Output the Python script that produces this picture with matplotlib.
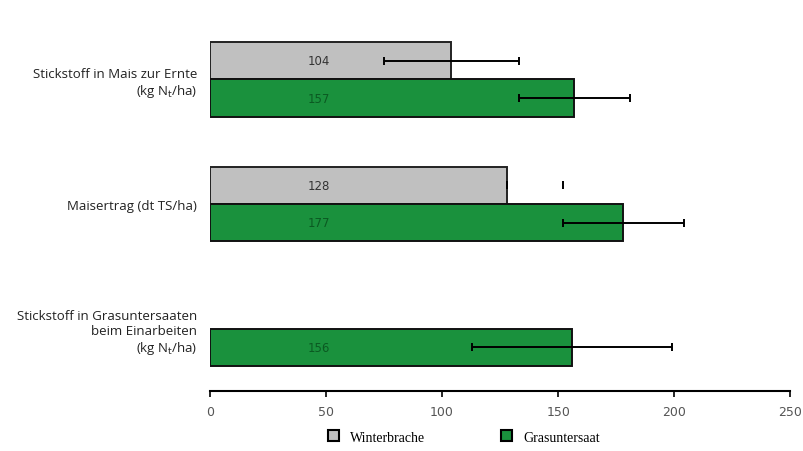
import matplotlib.pyplot as plt
import numpy as np
from matplotlib.patches import Patch

# categories, top to bottom
categories = [
    "Stickstoff in Mais zur Ernte\n(kg N$_{\\mathrm{t}}$/ha)",
    "Maisertrag (dt TS/ha)",
    "Stickstoff in Grasuntersaaten\nbeim Einarbeiten\n(kg N$_{\\mathrm{t}}$/ha)",
]
series_names = ["Winterbrache", "Grasuntersaat"]

# Winterbrache (no value for the third category)
brache = [104, 128, np.nan]
brache_err_lo = [29, 0, 0]
brache_err_hi = [29, 24, 0]
brache_labels = ["104", "128", ""]

# Grasuntersaat
gras = [157, 178, 156]
gras_err = [24, 26, 43]
gras_labels = ["157", "177", "156"]

xticks = [0, 50, 100, 150, 200, 250]

gray = "#c0c0c0"
green = "#1a913d"

fig = plt.figure(figsize=(8.04, 4.52), dpi=100)
ax = fig.add_axes([0.261, 0.133, 0.722, 0.827])

y = np.arange(len(categories))
h = 0.30

ax.barh(y - h / 2, brache, height=h, color=gray, edgecolor="#222222", linewidth=1.4)
ax.barh(y + h / 2, gras, height=h, color=green, edgecolor="#111111", linewidth=1.4)

# first Winterbrache error bar is drawn in full, the second shows only its cap
ax.errorbar(brache[0], y[0] - h / 2, xerr=[[brache_err_lo[0]], [brache_err_hi[0]]],
            fmt="none", ecolor="black", elinewidth=1.4, capsize=3, capthick=1.4)
ax.errorbar(brache[1], y[1] - h / 2, xerr=[[brache_err_lo[1]], [brache_err_hi[1]]],
            fmt="none", ecolor="black", elinewidth=0, capsize=3, capthick=1.4)
ax.errorbar(gras, y + h / 2, xerr=gras_err,
            fmt="none", ecolor="black", elinewidth=1.4, capsize=3, capthick=1.4)

for i in range(len(categories)):
    if brache_labels[i]:
        ax.text(47, y[i] - h / 2, brache_labels[i], ha="center", va="center",
                fontsize=8.5, color="#333333")
    ax.text(47, y[i] + h / 2, gras_labels[i], ha="center", va="center",
            fontsize=8.5, color="#0b5a22")

ax.set_xlim(0, 250)
ax.set_ylim(2.5, -0.5)
ax.set_xticks(xticks)
ax.set_xticklabels([str(t) for t in xticks], fontsize=9, color="#555555")
ax.set_yticks(y)
ax.set_yticklabels(categories, fontsize=9.5, color="#222222", family="Open Sans",
                   linespacing=1.2)
ax.tick_params(axis="y", length=0, pad=9)
ax.tick_params(axis="x", length=4, width=1.2, color="black", pad=6)

for s in ["top", "right", "left"]:
    ax.spines[s].set_visible(False)
ax.spines["bottom"].set_linewidth(1.5)

handles = [Patch(facecolor=gray, edgecolor="black", linewidth=1.5),
           Patch(facecolor=green, edgecolor="black", linewidth=1.5)]
fig.legend(handles, series_names, loc="center", bbox_to_anchor=(0.577, 0.031),
           ncol=2, frameon=False, handlelength=0.8, handleheight=0.8,
           columnspacing=5.5, prop={"family": "Liberation Serif", "size": 10})

fig.savefig("out.png", dpi=100)
